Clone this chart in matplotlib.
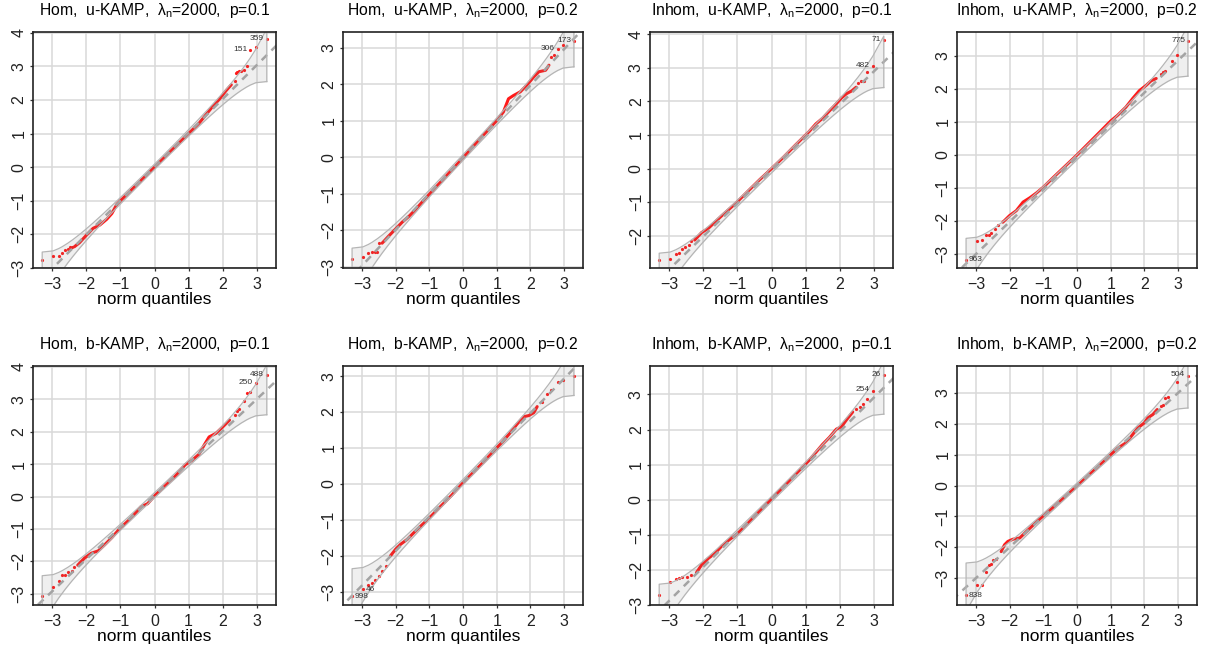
from statistics import NormalDist
import numpy as np
import matplotlib
matplotlib.use('Agg')
import matplotlib.pyplot as plt

plt.rcParams['font.family'] = ['Liberation Sans', 'DejaVu Sans']
plt.rcParams['mathtext.fontset'] = 'custom'
plt.rcParams['mathtext.rm'] = 'Liberation Sans'
plt.rcParams['mathtext.it'] = 'Liberation Sans:italic'

n_obs = 1000

titles = [
    'Hom,  u-KAMP,  λ$_\\mathrm{n}$=2000,  p=0.1',
    'Hom,  u-KAMP,  λ$_\\mathrm{n}$=2000,  p=0.2',
    'Inhom,  u-KAMP,  λ$_\\mathrm{n}$=2000,  p=0.1',
    'Inhom,  u-KAMP,  λ$_\\mathrm{n}$=2000,  p=0.2',
    'Hom,  b-KAMP,  λ$_\\mathrm{n}$=2000,  p=0.1',
    'Hom,  b-KAMP,  λ$_\\mathrm{n}$=2000,  p=0.2',
    'Inhom,  b-KAMP,  λ$_\\mathrm{n}$=2000,  p=0.1',
    'Inhom,  b-KAMP,  λ$_\\mathrm{n}$=2000,  p=0.2',
]

# dense middle part of each qq plot (norm quantile, sample quantile)
core_x = [
    [-2.35, -2.2, -2.0, -1.8, -1.6, -1.4, -1.25, -1.1, -0.9, -0.6, -0.3, 0, 0.3, 0.6, 0.9, 1.1, 1.3, 1.5, 1.7, 1.9, 2.1, 2.25],
    [-2.4, -2.2, -2.0, -1.8, -1.6, -1.4, -1.2, -1.0, -0.7, -0.4, 0, 0.4, 0.7, 1.0, 1.2, 1.35, 1.5, 1.7, 1.9, 2.1, 2.25, 2.45, 2.55],
    [-2.25, -2.05, -1.85, -1.65, -1.45, -1.25, -1.05, -0.7, -0.35, 0, 0.35, 0.7, 0.9, 1.1, 1.3, 1.5, 1.7, 1.9, 2.05, 2.2, 2.35, 2.48],
    [-2.2, -2.0, -1.8, -1.6, -1.4, -1.2, -1.0, -0.7, -0.35, 0, 0.35, 0.7, 1.0, 1.2, 1.45, 1.65, 1.85, 2.05, 2.2, 2.35],
    [-2.25, -2.05, -1.85, -1.65, -1.45, -1.25, -1.0, -0.7, -0.4, -0.2, 0, 0.3, 0.6, 0.9, 1.1, 1.3, 1.45, 1.6, 1.8, 2.0, 2.2],
    [-2.15, -2.0, -1.85, -1.65, -1.45, -1.25, -1.0, -0.7, -0.35, 0, 0.35, 0.7, 1.0, 1.2, 1.4, 1.6, 1.8, 1.95, 2.1, 2.2],
    [-2.2, -2.05, -1.85, -1.65, -1.45, -1.25, -1.0, -0.7, -0.35, 0, 0.35, 0.7, 0.9, 1.1, 1.3, 1.5, 1.7, 1.9, 2.05, 2.2, 2.38],
    [-2.25, -2.15, -2.05, -1.9, -1.7, -1.5, -1.25, -1.0, -0.7, -0.35, 0, 0.35, 0.7, 1.0, 1.2, 1.45, 1.65, 1.8, 2.0, 2.1, 2.25, 2.38],
]
core_y = [
    [-2.37, -2.25, -2.03, -1.82, -1.72, -1.55, -1.38, -1.1, -0.9, -0.6, -0.3, 0.0, 0.3, 0.6, 0.9, 1.1, 1.3, 1.55, 1.8, 2.02, 2.28, 2.45],
    [-2.36, -2.16, -1.97, -1.78, -1.62, -1.43, -1.22, -1.02, -0.72, -0.42, -0.02, 0.4, 0.7, 1.0, 1.24, 1.6, 1.69, 1.79, 1.98, 2.2, 2.34, 2.38, 2.52],
    [-2.12, -1.9, -1.77, -1.58, -1.39, -1.21, -1.03, -0.68, -0.33, 0.0, 0.34, 0.7, 0.9, 1.1, 1.33, 1.5, 1.72, 1.93, 2.1, 2.23, 2.31, 2.42],
    [-2.04, -1.84, -1.69, -1.43, -1.3, -1.15, -0.98, -0.68, -0.34, 0.0, 0.36, 0.72, 1.03, 1.2, 1.45, 1.71, 1.95, 2.11, 2.25, 2.32],
    [-2.12, -1.9, -1.75, -1.68, -1.48, -1.27, -0.97, -0.68, -0.32, -0.22, 0.02, 0.32, 0.62, 0.98, 1.12, 1.3, 1.58, 1.84, 1.95, 2.15, 2.36],
    [-2.0, -1.82, -1.68, -1.54, -1.35, -1.17, -0.95, -0.66, -0.33, 0.03, 0.36, 0.7, 1.0, 1.2, 1.42, 1.66, 1.87, 1.9, 1.98, 2.15],
    [-2.08, -1.86, -1.67, -1.52, -1.31, -1.15, -0.97, -0.68, -0.33, 0.02, 0.37, 0.72, 0.92, 1.12, 1.35, 1.58, 1.78, 2.01, 2.08, 2.28, 2.5],
    [-2.14, -1.92, -1.81, -1.74, -1.7, -1.49, -1.23, -0.98, -0.7, -0.36, -0.02, 0.34, 0.68, 1.0, 1.2, 1.38, 1.65, 1.86, 2.03, 2.19, 2.3, 2.46],
]

# isolated points in both tails
tail_x = [
    [-3.29, -2.97, -2.81, -2.70, -2.61, -2.54, -2.48, -2.43, 2.35, 2.39, 2.43, 2.48, 2.54, 2.61, 2.70, 2.81, 2.97, 3.29],
    [-3.29, -2.97, -2.81, -2.70, -2.61, -2.54, -2.48, 2.61, 2.70, 2.81, 2.97, 3.29],
    [-3.29, -2.97, -2.81, -2.70, -2.61, -2.54, -2.43, -2.35, 2.54, 2.61, 2.70, 2.81, 2.97, 3.29],
    [-3.29, -2.97, -2.81, -2.70, -2.61, -2.54, -2.43, -2.35, 2.48, 2.54, 2.61, 2.81, 2.97, 3.29],
    [-3.29, -2.97, -2.81, -2.70, -2.61, -2.54, -2.43, -2.35, 2.35, 2.43, 2.48, 2.61, 2.70, 2.81, 2.97, 3.29],
    [-3.29, -2.97, -2.81, -2.70, -2.61, -2.48, -2.39, -2.29, 2.35, 2.48, 2.61, 2.81, 2.97, 3.29],
    [-3.29, -2.97, -2.81, -2.70, -2.61, -2.48, -2.35, 2.48, 2.58, 2.68, 2.81, 2.97, 3.29],
    [-3.29, -2.97, -2.81, -2.70, -2.61, -2.54, -2.48, -2.39, 2.48, 2.54, 2.61, 2.70, 2.97, 3.29],
]
tail_y = [
    [-2.75, -2.65, -2.63, -2.55, -2.47, -2.42, -2.39, -2.37, 2.56, 2.80, 2.84, 2.85, 2.86, 2.88, 3.02, 3.49, 3.58, 3.80],
    [-2.80, -2.73, -2.63, -2.61, -2.59, -2.59, -2.36, 2.75, 2.80, 2.97, 3.07, 3.19],
    [-2.71, -2.69, -2.53, -2.51, -2.38, -2.33, -2.28, -2.16, 2.54, 2.61, 2.59, 2.86, 3.05, 3.83],
    [-3.18, -2.62, -2.58, -2.42, -2.42, -2.37, -2.24, -2.14, 2.46, 2.52, 2.54, 2.84, 3.02, 3.46],
    [-3.08, -2.79, -2.61, -2.43, -2.43, -2.32, -2.30, -2.19, 2.53, 2.65, 2.71, 2.94, 3.20, 3.22, 3.49, 3.75],
    [-3.12, -2.93, -2.81, -2.75, -2.68, -2.56, -2.42, -2.28, 2.27, 2.51, 2.60, 2.83, 2.88, 2.99],
    [-2.72, -2.34, -2.27, -2.22, -2.19, -2.19, -2.14, 2.59, 2.65, 2.73, 2.86, 3.11, 3.56],
    [-3.56, -3.22, -3.22, -2.81, -2.57, -2.55, -2.41, -2.38, 2.57, 2.62, 2.82, 2.85, 3.36, 3.56],
]

# identified observations: id text and the norm quantile of the point
point_ids = [['151', '359'], ['306', '173'], ['482', '71'], ['963', '775'],
             ['250', '488'], ['46', '998'], ['254', '26'], ['838', '504']]
point_id_x = [[2.81, 3.29], [2.81, 3.29], [2.97, 3.29], [-3.29, 3.29],
              [2.97, 3.29], [-2.97, -3.29], [2.97, 3.29], [-3.29, 3.29]]

# robust fit line (intercept, slope)
line_a = [0.01, -0.01, -0.05, -0.07, 0.04, 0.05, 0.015, 0.0]
line_b = [1.01, 0.99, 0.98, 0.98, 0.99, 0.96, 0.965, 1.0]

ylims = [(-3.0, 4.02), (-3.04, 3.43), (-2.95, 4.06), (-3.43, 3.73),
         (-3.35, 4.03), (-3.37, 3.28), (-3.0, 3.81), (-3.87, 3.87)]

W, H = 1210, 656
col_left = [33, 343, 650, 957]
col_w = [243, 240, 243, 240]
row_top = [32, 366]
row_h = [236, 239]

fig = plt.figure(figsize=(W / 100, H / 100), dpi=100)

nd = NormalDist()
P = (np.arange(1, n_obs + 1) - 0.5) / n_obs
z = np.array([nd.inv_cdf(p) for p in P])
dens = np.array([nd.pdf(v) for v in z])

for k in range(8):
    r, c = divmod(k, 4)
    left = col_left[c] / W
    bottom = 1 - (row_top[r] + row_h[r]) / H
    ax = fig.add_axes([left, bottom, col_w[c] / W, row_h[r] / H])
    ax.set_xlim(-3.56, 3.56)
    ax.set_ylim(*ylims[k])
    ax.set_xticks(range(-3, 4))
    lo, hi = ylims[k]
    ax.set_yticks([t for t in range(-4, 5) if lo <= t <= hi])
    ax.grid(True, color='#d9d9d9', lw=1.1, zorder=0)
    ax.set_axisbelow(True)

    # sample quantiles
    ax.plot(core_x[k], core_y[k], color='#ff1a1a', lw=2.2, zorder=2,
            solid_capstyle='round', solid_joinstyle='round')
    ax.plot(tail_x[k], tail_y[k], 'o', color='#ff1a1a', ms=2.3, mew=0, zorder=2)

    # reference line
    a, b = line_a[k], line_b[k]
    xx = np.array([-4, 4])
    ax.plot(xx, a + b * xx, color='#a8a8a8', lw=1.8, dashes=(3, 2.5), zorder=3)

    # pointwise confidence envelope
    fit = a + b * z
    se = b / dens * np.sqrt(P * (1 - P) / n_obs)
    upper = fit + 1.96 * se
    lower = fit - 1.96 * se
    ax.fill_between(z, lower, upper, color='#808080', alpha=0.12, lw=0, zorder=4)
    ax.plot(np.r_[z[0], z, z[-1]], np.r_[lower[0], upper, lower[-1]],
            color='#b5b5b5', lw=0.9, zorder=4)
    ax.plot(z, lower, color='#b5b5b5', lw=0.9, zorder=4)

    # labels for extreme observations
    tx = np.array(tail_x[k])
    for pid, px in zip(point_ids[k], point_id_x[k]):
        i = int(np.argmin(np.abs(tx - px)))
        py = tail_y[k][i]
        if px > 0:
            ax.annotate(pid, (px, py), xytext=(-2, 0.5), textcoords='offset points',
                        ha='right', va='center', fontsize=6, color='#333333', zorder=5)
        else:
            ax.annotate(pid, (px, py), xytext=(2, 0), textcoords='offset points',
                        ha='left', va='center', fontsize=6, color='#333333', zorder=5)

    for s in ax.spines.values():
        s.set_color('#222222')
        s.set_linewidth(1.2)
        s.set_zorder(6)
    ax.tick_params(axis='both', length=2.5, width=0.9, color='#333333',
                   labelsize=11.5, labelcolor='#222222')
    ax.tick_params(axis='x', pad=4)
    ax.tick_params(axis='y', pad=2)
    for lab in ax.get_yticklabels():
        lab.set_rotation(90)
        lab.set_va('center')

    ax.annotate(titles[k], (0.5, 1), xycoords='axes fraction', xytext=(0, 22 * 0.72),
                textcoords='offset points', ha='center', va='center', fontsize=11.3)
    ax.annotate('norm quantiles', (0.5, 0), xycoords='axes fraction', xytext=(0, -32 * 0.72),
                textcoords='offset points', ha='center', va='center', fontsize=12.5)

fig.savefig('out.png', dpi=100)
